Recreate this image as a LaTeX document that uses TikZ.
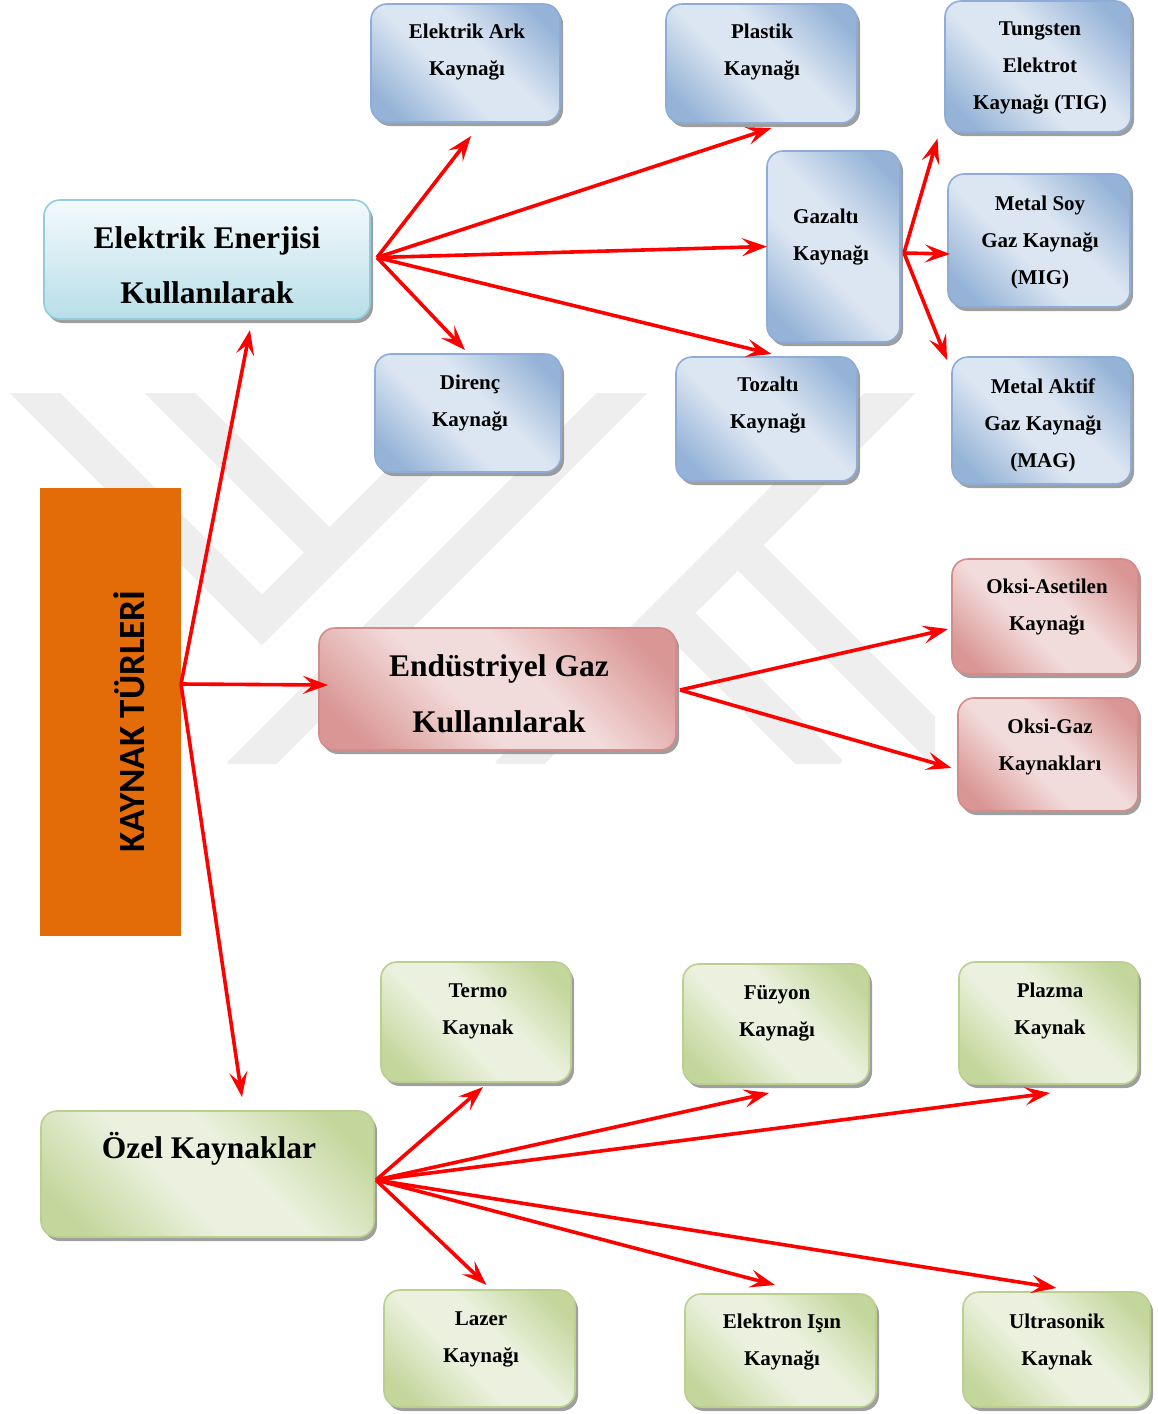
\documentclass[tikz,border=0pt]{standalone}
\usepackage{fontspec}
\setmainfont{Liberation Serif}
\newfontfamily\headfont{Carlito}
\usetikzlibrary{arrows.meta,shadows}

% palette
\definecolor{bdk}{HTML}{95B3D7}
\definecolor{blt}{HTML}{DCE6F2}
\definecolor{bline}{HTML}{8EACD8}
\definecolor{rdk}{HTML}{D99694}
\definecolor{rlt}{HTML}{F2DCDB}
\definecolor{rline}{HTML}{D48C8A}
\definecolor{gdk}{HTML}{C3D69B}
\definecolor{glt}{HTML}{EBF1DE}
\definecolor{gline}{HTML}{BBD08F}
\definecolor{ctop}{HTML}{F4FAFC}
\definecolor{cbot}{HTML}{B7DEE8}
\definecolor{cline}{HTML}{93CDDD}
\definecolor{orng}{HTML}{E36C09}
\definecolor{wmark}{HTML}{EEEEEE}

% diagonal "mirrored" fills: dark corners, light band across the middle
\pgfdeclarehorizontalshading{blueshade}{100bp}{color(0bp)=(bdk); color(22bp)=(bdk); color(43bp)=(blt); color(57bp)=(blt); color(78bp)=(bdk); color(100bp)=(bdk)}
\pgfdeclarehorizontalshading{redshade}{100bp}{color(0bp)=(rdk); color(22bp)=(rdk); color(43bp)=(rlt); color(57bp)=(rlt); color(78bp)=(rdk); color(100bp)=(rdk)}
\pgfdeclarehorizontalshading{greenshade}{100bp}{color(0bp)=(gdk); color(22bp)=(gdk); color(43bp)=(glt); color(57bp)=(glt); color(78bp)=(gdk); color(100bp)=(gdk)}

\tikzset{
  wbox/.style={rounded corners=16pt, line width=1.6pt, inner sep=0pt, outer sep=0pt, anchor=north west,
    drop shadow={shadow xshift=3pt, shadow yshift=-4pt, fill=black!50, opacity=.75}},
  bluebox/.style={wbox, draw=bline, shading=blueshade, shading angle=45},
  redbox/.style={wbox, draw=rline, shading=redshade, shading angle=45},
  greenbox/.style={wbox, draw=gline, shading=greenshade, shading angle=45},
  cyanbox/.style={wbox, draw=cline, top color=ctop, bottom color=cbot},
  txt/.style={font=\bfseries\fontsize{21}{37}\selectfont, align=center, inner sep=0pt},
  bigtxt/.style={font=\bfseries\fontsize{31.5}{55.5}\selectfont, align=center, inner sep=0pt},
  arr/.style={draw=red, line width=3.6pt, -{Stealth[length=25pt,width=18pt,inset=10pt]}},
  wm/.style={draw=wmark, line width=36pt, line cap=butt, line join=miter},
}

\begin{document}
\begin{tikzpicture}[x=1pt,y=-1pt]
\useasboundingbox (0,0) rectangle (1157,1414);
\fill[white] (0,0) rectangle (1157,1414);

% background emblem made of diagonal bands
\begin{scope}
  \clip (0,393) rectangle (935,763);
  \draw[wm] (20,378) -- (262,620) -- (520,362);
  \draw[wm] (155,378) -- (330,553);
  \draw[wm] (240,775) -- (637,378);
  \draw[wm] (508,775) -- (905,378);
  \draw[wm] (738,545) -- (980,787);
  \draw[wm] (670,613) -- (830,773);
\end{scope}

% central label
\fill[orng] (40,488) rectangle (181,936);
\node[minimum width=141pt, minimum height=448pt, inner sep=0pt, outer sep=0pt, anchor=north west] (turler) at (40,488) {};
\node[rotate=90, inner sep=0pt, font=\headfont\bfseries\fontsize{37}{40}\selectfont] (turler-t) at (129.5,721.5) {KAYNAK TÜRLERİ};

% main groups
\node[cyanbox, minimum width=326pt, minimum height=119pt] (ee) at (44,200) {};
\node[bigtxt] (ee-t) at (207,265.5) {Elektrik Enerjisi\\Kullanılarak};
\node[redbox, minimum width=357pt, minimum height=122pt] (eg) at (319,628) {};
\node[bigtxt] (eg-t) at (499,694) {Endüstriyel Gaz\\Kullanılarak};
\node[greenbox, minimum width=333pt, minimum height=126pt] (ozel) at (41,1111) {};
\node[bigtxt] (ozel-t) at (209,1149) {Özel Kaynaklar};

% electric processes
\node[bluebox, minimum width=189pt, minimum height=118pt] (ark) at (371,4) {};
\node[txt] (ark-t) at (467,52.5) {Elektrik Ark\\Kaynağı};
\node[bluebox, minimum width=191pt, minimum height=119pt] (plastik) at (666,4) {};
\node[txt] (plastik-t) at (762,52.5) {Plastik\\Kaynağı};
\node[bluebox, minimum width=186pt, minimum height=131pt] (tig) at (945,1) {};
\node[txt] (tig-t) at (1040,68) {Tungsten\\Elektrot\\Kaynağı (TIG)};
\node[bluebox, minimum width=133pt, minimum height=191pt] (gaz) at (767,151) {};
\node[txt, align=left, anchor=west] (gaz-t) at (793,237) {Gazaltı\\Kaynağı};
\node[bluebox, minimum width=182pt, minimum height=133pt] (mig) at (948,174) {};
\node[txt] (mig-t) at (1040,242) {Metal Soy\\Gaz Kaynağı\\(MIG)};
\node[bluebox, minimum width=179pt, minimum height=127pt] (mag) at (952,357) {};
\node[txt] (mag-t) at (1043,425) {Metal Aktif\\Gaz Kaynağı\\(MAG)};
\node[bluebox, minimum width=186pt, minimum height=118pt] (direnc) at (375,354) {};
\node[txt] (direnc-t) at (470,403.5) {Direnç\\Kaynağı};
\node[bluebox, minimum width=181pt, minimum height=124pt] (tozalti) at (676,357) {};
\node[txt] (tozalti-t) at (768,405.5) {Tozaltı\\Kaynağı};

% gas processes
\node[redbox, minimum width=186pt, minimum height=115pt] (oksia) at (952,559) {};
\node[txt] (oksia-t) at (1047,607.5) {Oksi-Asetilen\\Kaynağı};
\node[redbox, minimum width=180pt, minimum height=113pt] (oksig) at (958,698) {};
\node[txt] (oksig-t) at (1050,746.5) {Oksi-Gaz\\Kaynakları};

% special processes
\node[greenbox, minimum width=190pt, minimum height=120pt] (termo) at (381,962) {};
\node[txt] (termo-t) at (478,1011) {Termo\\Kaynak};
\node[greenbox, minimum width=186pt, minimum height=120pt] (fuzyon) at (683,964) {};
\node[txt] (fuzyon-t) at (777,1013.5) {Füzyon\\Kaynağı};
\node[greenbox, minimum width=179pt, minimum height=122pt] (plazma) at (959,962) {};
\node[txt] (plazma-t) at (1050,1011) {Plazma\\Kaynak};
\node[greenbox, minimum width=191pt, minimum height=117pt] (lazer) at (384,1290) {};
\node[txt] (lazer-t) at (481,1339) {Lazer\\Kaynağı};
\node[greenbox, minimum width=191pt, minimum height=113pt] (elektron) at (685,1294) {};
\node[txt] (elektron-t) at (782,1342.5) {Elektron Işın\\Kaynağı};
\node[greenbox, minimum width=187pt, minimum height=115pt] (ultra) at (963,1292) {};
\node[txt] (ultra-t) at (1057,1341.5) {Ultrasonik\\Kaynak};

% fan-out points
\coordinate (hub0) at ([shift={(0,-28)}]turler.east);
\coordinate (hub1) at ([shift={(7,-2)}]ee.east);
\coordinate (hub2) at ([shift={(4,6.5)}]gaz.east);
\coordinate (hub3) at ([shift={(4,1)}]eg.east);
\coordinate (hub4) at ([shift={(2,6)}]ozel.east);

% connectors
\draw[arr] (hub0) -- ([shift={(43,11)}]ee.south);
\draw[arr] (hub0) -- ([shift={(9,-4)}]eg.west);
\draw[arr] (hub0) -- ([shift={(34.5,-14)}]ozel.north);

\draw[arr] (hub1) -- ([shift={(5.5,14)}]ark.south);
\draw[arr] (hub1) -- ([shift={(10,5)}]plastik.south);
\draw[arr] (hub1) -- (gaz.west);
\draw[arr] (hub1) -- ([shift={(-3,-4)}]direnc.north);
\draw[arr] (hub1) -- ([shift={(5,-3)}]tozalti.north);

\draw[arr] (hub2) -- ([shift={(-7.5,6.5)}]tig.south west);
\draw[arr] (hub2) -- ([shift={(2,13.5)}]mig.west);
\draw[arr] (hub2) -- ([shift={(-5,3)}]mag.north west);

\draw[arr] (hub3) -- ([shift={(-4,12.5)}]oksia.west);
\draw[arr] (hub3) -- ([shift={(-6.5,13.5)}]oksig.west);

\draw[arr] (hub4) -- ([shift={(7,5)}]termo.south);
\draw[arr] (hub4) -- ([shift={(-7,9)}]fuzyon.south);
\draw[arr] (hub4) -- ([shift={(1.5,9)}]plazma.south);
\draw[arr] (hub4) -- ([shift={(7,-5)}]lazer.north);
\draw[arr] (hub4) -- ([shift={(-5.5,-9)}]elektron.north);
\draw[arr] (hub4) -- ([shift={(0,-4)}]ultra.north);
\end{tikzpicture}
\end{document}
